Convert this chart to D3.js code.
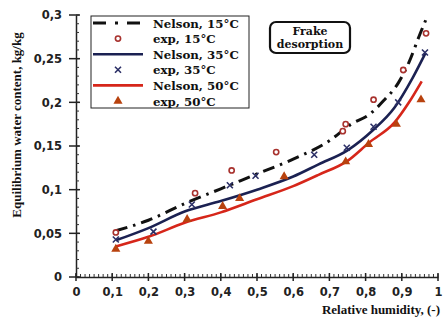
<!DOCTYPE html>
<html><head><meta charset="utf-8">
<script src="https://cdn.jsdelivr.net/npm/d3@7"></script>
<style>body{margin:0;background:#fff}svg{display:block}</style>
</head><body>
<script>
// ---- data ----
const xTicks = [0,0.1,0.2,0.3,0.4,0.5,0.6,0.7,0.8,0.9,1];
const xTickLabels = ["0","0,1","0,2","0,3","0,4","0,5","0,6","0,7","0,8","0,9","1"];
const yTicks = [0,0.05,0.1,0.15,0.2,0.25,0.3];
const yTickLabels = ["0","0,05","0,1","0,15","0,2","0,25","0,3"];

const nelson15X = [0.11,0.2,0.3,0.4,0.5,0.6,0.7,0.76,0.81,0.85,0.89,0.92,0.95,0.97];
const nelson15Y = [0.053,0.065,0.084,0.101,0.118,0.135,0.156,0.175,0.186,0.202,0.222,0.246,0.278,0.298];
const nelson35X = [0.11,0.2,0.3,0.4,0.5,0.6,0.67,0.75,0.82,0.88,0.93,0.965];
const nelson35Y = [0.042,0.056,0.075,0.087,0.100,0.115,0.129,0.145,0.168,0.194,0.228,0.256];
const nelson50X = [0.11,0.2,0.3,0.4,0.5,0.6,0.67,0.75,0.81,0.88,0.92,0.955];
const nelson50Y = [0.035,0.046,0.062,0.074,0.089,0.104,0.117,0.133,0.154,0.177,0.200,0.224];

const exp15X = [0.11,0.329,0.43,0.553,0.737,0.745,0.822,0.904,0.967];
const exp15Y = [0.051,0.096,0.122,0.143,0.167,0.175,0.203,0.237,0.279];
const exp35X = [0.11,0.214,0.32,0.425,0.496,0.658,0.748,0.822,0.89,0.964];
const exp35Y = [0.043,0.052,0.083,0.105,0.116,0.140,0.148,0.172,0.200,0.257];
const exp50X = [0.11,0.2,0.307,0.405,0.452,0.575,0.745,0.808,0.885,0.953];
const exp50Y = [0.032,0.041,0.066,0.081,0.090,0.115,0.132,0.152,0.175,0.203];

const legendLabels = ["Nelson, 15°C","exp, 15°C","Nelson, 35°C","exp, 35°C","Nelson, 50°C","exp, 50°C"];

// ---- chart ----
const W = 447, H = 319;
const svg = d3.select("body").append("svg").attr("width", W).attr("height", H);
const x = d3.scaleLinear().domain([0,1]).range([76,438]);
const y = d3.scaleLinear().domain([0,0.3]).range([277,15]);

const C15 = "#111", C35 = "#1b2152", C50 = "#d6261a";
const CC = "#a8322e", CX = "#2b2f66", CT = "#b8420e";

// axes
const g = svg.append("g");
const yAxis = d3.axisLeft(y).tickValues(yTicks).tickSize(0).tickFormat((d,i)=>yTickLabels[i]).tickPadding(14);
const yg = g.append("g").attr("transform",`translate(${x(0)},0)`).call(yAxis);
yg.select(".domain").attr("stroke","#222").attr("stroke-width",1.5);
yg.selectAll("text").attr("font-family","DejaVu Sans").attr("font-weight","bold").attr("font-size",11.5).attr("fill","#222");
const yMinor = d3.range(0,0.3001,0.01);
g.selectAll(".ym").data(yMinor).enter().append("line")
  .attr("x1",x(0)).attr("x2",x(0)+3).attr("y1",d=>y(d)).attr("y2",d=>y(d))
  .attr("stroke","#333").attr("stroke-width",1);
g.selectAll(".yM").data(yTicks).enter().append("line")
  .attr("x1",x(0)-7).attr("x2",x(0)+4).attr("y1",d=>y(d)).attr("y2",d=>y(d))
  .attr("stroke","#222").attr("stroke-width",1.5);

const xAxis = d3.axisBottom(x).tickValues(xTicks).tickSize(0).tickFormat((d,i)=>xTickLabels[i]).tickPadding(11);
const xg = g.append("g").attr("transform",`translate(0,${y(0)})`).call(xAxis);
xg.select(".domain").attr("stroke","#222").attr("stroke-width",1.5);
xg.selectAll("text").attr("font-family","DejaVu Sans").attr("font-weight","bold").attr("font-size",11.5).attr("fill","#222");
const xMinor = d3.range(0,1.0001,0.0125);
g.selectAll(".xm").data(xMinor).enter().append("line")
  .attr("x1",d=>x(d)).attr("x2",d=>x(d)).attr("y1",y(0)).attr("y2",y(0)-3)
  .attr("stroke","#333").attr("stroke-width",1);
g.selectAll(".xM").data(xTicks).enter().append("line")
  .attr("x1",d=>x(d)).attr("x2",d=>x(d)).attr("y1",y(0)-4).attr("y2",y(0)+4)
  .attr("stroke","#222").attr("stroke-width",1.5);

// axis titles
svg.append("text").attr("transform","translate(21,125) rotate(-90)")
  .attr("text-anchor","middle").attr("font-family","Liberation Serif").attr("font-weight","bold")
  .attr("font-size",13).attr("fill","#111").text("Equilibrium water content, kg/kg");
svg.append("text").attr("x",440).attr("y",314).attr("text-anchor","end")
  .attr("font-family","Liberation Serif").attr("font-weight","bold")
  .attr("font-size",13).attr("fill","#111").text("Relative humidity, (-)");

// curves
const line = d3.line().x(d=>x(d[0])).y(d=>y(d[1])).curve(d3.curveMonotoneX);
const zip = (a,b)=>a.map((v,i)=>[v,b[i]]);
svg.append("path").datum(zip(nelson50X,nelson50Y)).attr("d",line).attr("fill","none")
  .attr("stroke",C50).attr("stroke-width",2.6);
svg.append("path").datum(zip(nelson35X,nelson35Y)).attr("d",line).attr("fill","none")
  .attr("stroke",C35).attr("stroke-width",2.6);
svg.append("path").datum(zip(nelson15X,nelson15Y)).attr("d",line).attr("fill","none")
  .attr("stroke",C15).attr("stroke-width",3).attr("stroke-dasharray","12,6,2.5,6");

// markers
const tri = d3.symbol().type(d3.symbolTriangle).size(36);
function drawCircle(sel){ sel.append("circle").attr("r",2.6).attr("fill","#fff").attr("stroke",CC).attr("stroke-width",1.6); }
function drawCross(sel){ sel.append("path").attr("d","M-3,-3L3,3M-3,3L3,-3").attr("stroke",CX).attr("stroke-width",1.6).attr("fill","none"); }
function drawTri(sel){ sel.append("path").attr("d",tri).attr("fill",CT); }

svg.selectAll(".e50").data(zip(exp50X,exp50Y)).enter().append("g")
  .attr("transform",d=>`translate(${x(d[0])},${y(d[1])})`).call(drawTri);
svg.selectAll(".e35").data(zip(exp35X,exp35Y)).enter().append("g")
  .attr("transform",d=>`translate(${x(d[0])},${y(d[1])})`).call(drawCross);
svg.selectAll(".e15").data(zip(exp15X,exp15Y)).enter().append("g")
  .attr("transform",d=>`translate(${x(d[0])},${y(d[1])})`).call(drawCircle);

// legend
const lg = svg.append("g");
lg.append("rect").attr("x",91).attr("y",16).attr("width",158).attr("height",92)
  .attr("fill","#fff").attr("stroke","#222").attr("stroke-width",1);
const rowY = i => 23 + i*15.6;
legendLabels.forEach((t,i)=>{
  const cy = rowY(i);
  if(i===0) lg.append("line").attr("x1",93).attr("x2",143).attr("y1",cy).attr("y2",cy)
     .attr("stroke",C15).attr("stroke-width",3).attr("stroke-dasharray","13,9,3,9");
  if(i===2) lg.append("line").attr("x1",93).attr("x2",143).attr("y1",cy).attr("y2",cy).attr("stroke",C35).attr("stroke-width",2.6);
  if(i===4) lg.append("line").attr("x1",93).attr("x2",143).attr("y1",cy).attr("y2",cy).attr("stroke",C50).attr("stroke-width",2.6);
  const mg = lg.append("g").attr("transform",`translate(118,${cy})`);
  if(i===1) drawCircle(mg);
  if(i===3) drawCross(mg);
  if(i===5) drawTri(mg);
  lg.append("text").attr("x",153).attr("y",cy+4.5).attr("font-family","DejaVu Serif").attr("font-weight","bold")
    .attr("font-size",11.8).attr("fill","#111").text(t);
});

// annotation box
svg.append("rect").attr("x",270).attr("y",22).attr("width",80).attr("height",31).attr("rx",6)
  .attr("fill","#fff").attr("stroke","#111").attr("stroke-width",2.2);
svg.append("text").attr("x",310).attr("y",35).attr("text-anchor","middle").attr("font-family","DejaVu Serif")
  .attr("font-weight","bold").attr("font-size",11).attr("fill","#111").text("Frake");
svg.append("text").attr("x",310).attr("y",48).attr("text-anchor","middle").attr("font-family","DejaVu Serif")
  .attr("font-weight","bold").attr("font-size",11).attr("fill","#111").text("desorption");
</script>
</body></html>
